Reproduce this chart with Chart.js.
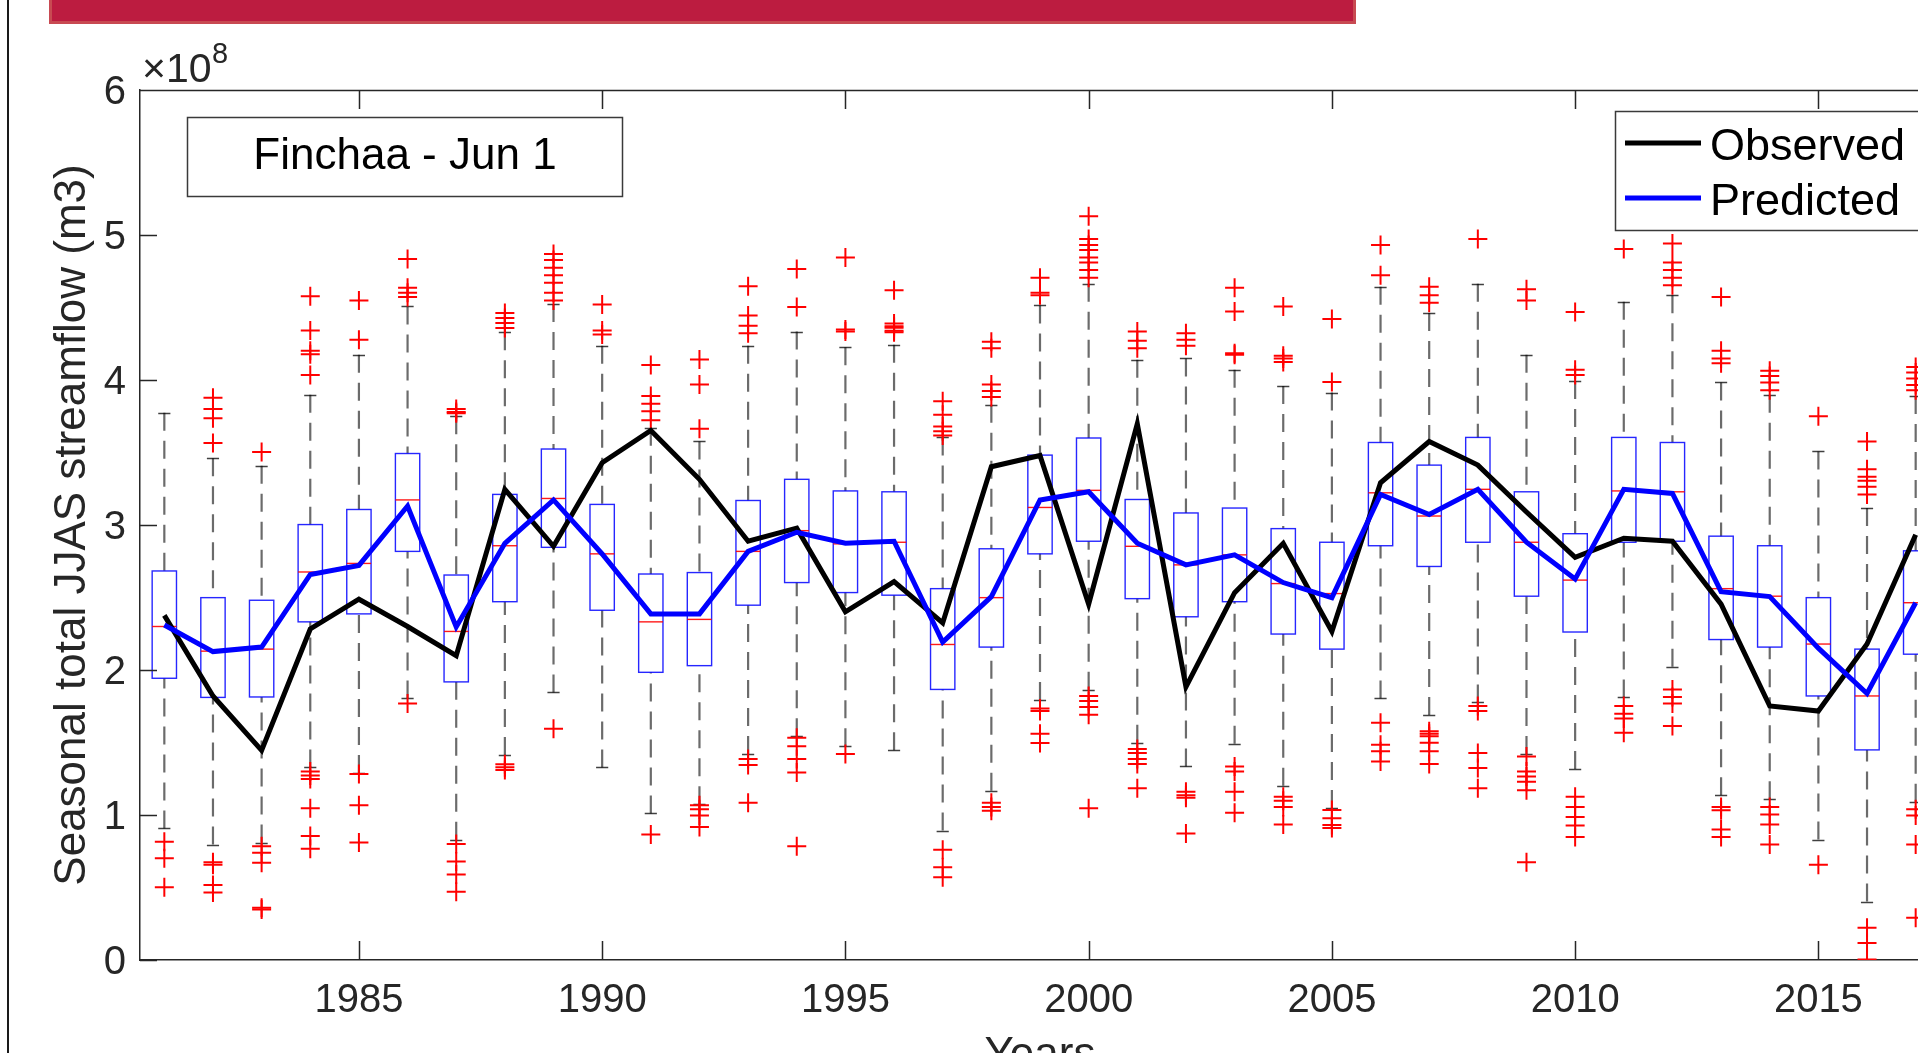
<!DOCTYPE html>
<html>
<head>
<meta charset="utf-8">
<script src="https://cdn.jsdelivr.net/npm/chart.js@4.4.0/dist/chart.umd.min.js"></script>
<style>
  html, body { margin: 0; padding: 0; background: #fff; overflow: hidden; }
  #wrap { position: relative; width: 1918px; height: 1053px; overflow: hidden; background: #fff; }
  #banner { position: absolute; left: 49px; top: -4px; width: 1301px; height: 25px; background: #bc1c40; border: 3px solid #c84a52; border-top: none; }
  #frame { position: absolute; left: 7px; top: 0; width: 2px; height: 1053px; background: #1a1a1a; }
  #chart { position: absolute; left: 0; top: 0; }
</style>
</head>
<body>
<div id="wrap">
  <canvas id="chart" width="1960" height="1100"></canvas>
  <div id="banner"></div>
  <div id="frame"></div>
</div>
<script>
// ========== Data (values in units of 1e8 m3) ==========
const years = [1981, 1982, 1983, 1984, 1985, 1986, 1987, 1988, 1989, 1990,
  1991, 1992, 1993, 1994, 1995, 1996, 1997, 1998, 1999, 2000,
  2001, 2002, 2003, 2004, 2005, 2006, 2007, 2008, 2009, 2010,
  2011, 2012, 2013, 2014, 2015, 2016, 2017];

const observed = [2.377, 1.821, 1.446, 2.283, 2.488, 2.30, 2.099, 3.246, 2.853, 3.43,
  3.652, 3.315, 2.888, 2.978, 2.401, 2.61, 2.325, 3.402, 3.479, 2.454,
  3.698, 1.884, 2.533, 2.874, 2.266, 3.291, 3.576, 3.413, 3.09, 2.777,
  2.909, 2.888, 2.454, 1.752, 1.717, 2.179, 2.933];

const predicted = [2.31, 2.127, 2.158, 2.659, 2.721, 3.131, 2.297, 2.874, 3.173, 2.80,
  2.387, 2.387, 2.818, 2.95, 2.874, 2.888, 2.193, 2.506, 3.173, 3.229,
  2.874, 2.725, 2.794, 2.603, 2.499, 3.211, 3.072, 3.246, 2.881, 2.627,
  3.246, 3.218, 2.54, 2.506, 2.151, 1.838, 2.464];

// box statistics of the forecast ensemble
const q1 = [1.943, 1.811, 1.814, 2.332, 2.387, 2.818, 1.918, 2.471, 2.846, 2.412,
  1.984, 2.03, 2.447, 2.603, 2.534, 2.516, 1.866, 2.158, 2.801, 2.888,
  2.492, 2.367, 2.471, 2.248, 2.144, 2.857, 2.714, 2.881, 2.509, 2.262,
  2.881, 2.888, 2.21, 2.158, 1.821, 1.449, 2.109];
const medians = [2.30, 2.13, 2.144, 2.676, 2.735, 3.173, 2.266, 2.857, 3.183, 2.801,
  2.332, 2.349, 2.818, 2.961, 2.87, 2.881, 2.176, 2.499, 3.121, 3.239,
  2.853, 2.725, 2.794, 2.596, 2.527, 3.222, 3.062, 3.246, 2.881, 2.62,
  3.235, 3.229, 2.561, 2.509, 2.179, 1.821, 2.464];
const q3 = [2.683, 2.499, 2.481, 3.003, 3.107, 3.493, 2.655, 3.211, 3.524, 3.142,
  2.662, 2.672, 3.169, 3.315, 3.235, 3.229, 2.561, 2.836, 3.482, 3.60,
  3.176, 3.083, 3.117, 2.975, 2.881, 3.569, 3.413, 3.604, 3.229, 2.94,
  3.604, 3.569, 2.923, 2.857, 2.499, 2.144, 2.822];
const whiskLo = [0.907, 0.796, 0.81, 1.328, 1.289, 1.804, 0.83, 1.414, 1.845, 1.328,
  1.011, 1.074, 1.421, 1.543, 1.474, 1.446, 0.893, 1.168, 1.793, 1.863,
  1.498, 1.335, 1.491, 1.202, 1.048, 1.804, 1.689, 1.776, 1.421, 1.317,
  1.811, 2.023, 1.136, 1.109, 0.831, 0.403, 1.091];
const whiskHi = [3.774, 3.461, 3.409, 3.899, 4.174, 4.507, 3.75, 4.33, 4.525, 4.236,
  3.67, 3.576, 4.236, 4.334, 4.226, 4.243, 3.604, 3.83, 4.514, 4.664,
  4.139, 4.149, 4.07, 3.958, 3.913, 4.643, 4.462, 4.664, 4.174, 3.993,
  4.539, 4.584, 3.983, 3.899, 3.507, 3.117, 3.889];

const outliers = [
  [0.816, 0.701, 0.501],
  [3.878, 3.80, 3.736, 3.566, 0.674, 0.657, 0.518, 0.466],
  [3.503, 0.785, 0.74, 0.671, 0.36, 0.348],
  [4.577, 4.341, 4.202, 4.177, 4.035, 1.30, 1.272, 1.248, 1.046, 0.855, 0.768],
  [4.549, 4.278, 1.282, 1.067, 0.81],
  [4.834, 4.636, 4.601, 4.573, 1.769],
  [3.80, 3.78, 3.77, 0.80, 0.68, 0.59, 0.47],
  [4.462, 4.428, 4.393, 4.358, 1.35, 1.33, 1.31],
  [4.869, 4.827, 4.775, 4.723, 4.671, 4.601, 4.549, 1.595],
  [4.521, 4.341, 4.313],
  [4.104, 3.889, 3.837, 3.785, 3.722, 0.865],
  [4.142, 3.969, 3.663, 1.067, 1.039, 0.997, 0.917],
  [4.646, 4.445, 4.375, 4.323, 1.387, 1.345, 1.084],
  [4.765, 4.504, 1.533, 1.474, 1.387, 1.293, 0.785],
  [4.845, 4.348, 4.334, 1.421],
  [4.619, 4.39, 4.37, 4.36, 4.34, 4.33],
  [3.854, 3.76, 3.68, 3.646, 3.618, 0.761, 0.639, 0.57],
  [4.264, 4.219, 3.969, 3.924, 3.882, 1.084, 1.056, 1.029],
  [4.706, 4.601, 4.584, 1.734, 1.717, 1.56, 1.497],
  [5.13, 4.973, 4.931, 4.897, 4.845, 4.81, 4.758, 4.706, 1.821, 1.786, 1.745, 1.692, 1.046],
  [4.334, 4.271, 4.219, 1.456, 1.428, 1.387, 1.352, 1.185],
  [4.323, 4.278, 4.236, 1.161, 1.136, 1.119, 0.872],
  [4.636, 4.473, 4.184, 4.174, 1.335, 1.30, 1.161, 1.015],
  [4.507, 4.167, 4.149, 4.125, 1.126, 1.098, 1.056, 0.935],
  [4.421, 3.986, 1.034, 0.977, 0.931, 0.91],
  [4.931, 4.723, 1.637, 1.484, 1.439, 1.369],
  [4.643, 4.584, 4.532, 1.578, 1.56, 1.543, 1.498, 1.439, 1.352],
  [4.973, 1.752, 1.717, 1.428, 1.324, 1.185],
  [4.626, 4.549, 1.404, 1.30, 1.265, 1.23, 1.171, 0.674],
  [4.469, 4.07, 4.035, 1.126, 1.056, 0.987, 0.928, 0.848],
  [4.904, 1.752, 1.699, 1.665, 1.567],
  [4.942, 4.81, 4.758, 4.706, 4.653, 1.866, 1.814, 1.769, 1.613],
  [4.573, 4.202, 4.149, 4.115, 1.056, 1.032, 0.90, 0.848],
  [4.063, 4.028, 3.983, 3.93, 1.056, 1.004, 0.935, 0.796],
  [3.75, 0.657],
  [3.576, 3.385, 3.333, 3.305, 3.263, 3.211, 0.222, 0.118, 0.003],
  [4.09, 4.052, 4.01, 3.965, 3.93, 1.039, 0.997, 0.796, 0.292]
];

const xTicks = [1985, 1990, 1995, 2000, 2005, 2010, 2015];
const yTicks = [0, 1, 2, 3, 4, 5, 6];
const seriesNames = ['Observed', 'Predicted'];
const seriesColors = ['#000000', '#0000ff'];
const panelTitle = 'Finchaa - Jun 1';

// ========== Plugins ==========
const FONT = '"Liberation Sans", Arial, Helvetica, sans-serif';
const AXIS_COLOR = '#262626';

// whiskers, boxes and medians, drawn under the datasets
const boxPlugin = {
  id: 'boxplot',
  beforeDatasetsDraw(chart) {
    const { ctx, chartArea: a, scales: { x, y } } = chart;
    ctx.save();
    ctx.beginPath();
    ctx.rect(a.left, a.top, a.right - a.left, a.bottom - a.top);
    ctx.clip();
    years.forEach((yr, i) => {
      const cx = x.getPixelForValue(yr);
      const half = x.getPixelForValue(yr + 0.25) - cx;
      const capHalf = half / 2;

      // dashed whiskers
      ctx.setLineDash([18, 10]);
      ctx.strokeStyle = 'rgba(0,0,0,0.58)';
      ctx.lineWidth = 2.2;
      ctx.beginPath();
      ctx.moveTo(cx, y.getPixelForValue(whiskHi[i]));
      ctx.lineTo(cx, y.getPixelForValue(q3[i]));
      ctx.moveTo(cx, y.getPixelForValue(whiskLo[i]));
      ctx.lineTo(cx, y.getPixelForValue(q1[i]));
      ctx.stroke();

      // whisker caps
      ctx.setLineDash([]);
      ctx.strokeStyle = 'rgba(0,0,0,0.75)';
      ctx.lineWidth = 1.5;
      ctx.beginPath();
      [whiskHi[i], whiskLo[i]].forEach(v => {
        const py = Math.round(y.getPixelForValue(v)) + 0.5;
        ctx.moveTo(cx - capHalf, py);
        ctx.lineTo(cx + capHalf, py);
      });
      ctx.stroke();

      // box
      const top = y.getPixelForValue(q3[i]);
      const bot = y.getPixelForValue(q1[i]);
      ctx.strokeStyle = 'rgba(0,0,255,0.85)';
      ctx.lineWidth = 1.4;
      ctx.strokeRect(cx - half, top, half * 2, bot - top);

      // median
      const my = y.getPixelForValue(medians[i]);
      ctx.strokeStyle = 'rgba(255,0,0,0.9)';
      ctx.lineWidth = 1.4;
      ctx.beginPath();
      ctx.moveTo(cx - half, my);
      ctx.lineTo(cx + half, my);
      ctx.stroke();
    });
    ctx.restore();
  }
};

// MATLAB style axes: top border, inward ticks, exponent, panel title and legend
const decorPlugin = {
  id: 'decor',
  afterDraw(chart) {
    const { ctx, chartArea: a, scales: { x, y } } = chart;
    ctx.save();
    ctx.strokeStyle = AXIS_COLOR;
    ctx.lineWidth = 1.5;
    ctx.beginPath();
    ctx.moveTo(a.left, a.top + 0.5);
    ctx.lineTo(a.right, a.top + 0.5);
    xTicks.forEach(v => {
      const px = Math.round(x.getPixelForValue(v)) + 0.5;
      ctx.moveTo(px, a.bottom);
      ctx.lineTo(px, a.bottom - 19);
      ctx.moveTo(px, a.top);
      ctx.lineTo(px, a.top + 19);
    });
    yTicks.forEach(v => {
      const py = Math.round(y.getPixelForValue(v)) + 0.5;
      ctx.moveTo(a.left, py);
      ctx.lineTo(a.left + 17, py);
    });
    ctx.stroke();

    // exponent label
    ctx.fillStyle = AXIS_COLOR;
    ctx.textBaseline = 'alphabetic';
    ctx.textAlign = 'left';
    ctx.font = `41px ${FONT}`;
    ctx.fillText('\u00d710', 142, 82);
    ctx.font = `29px ${FONT}`;
    ctx.fillText('8', 212, 63);

    // panel title box
    ctx.fillStyle = '#fff';
    ctx.fillRect(187, 117, 436, 80);
    ctx.strokeStyle = '#3a3a3a';
    ctx.lineWidth = 1.5;
    ctx.strokeRect(187.5, 117.5, 435, 79);
    ctx.fillStyle = '#000';
    ctx.textAlign = 'center';
    ctx.font = `44px ${FONT}`;
    ctx.fillText(panelTitle, 405, 169);

    // legend
    ctx.fillStyle = '#fff';
    ctx.fillRect(1615, 111, 330, 120);
    ctx.strokeStyle = '#3a3a3a';
    ctx.strokeRect(1615.5, 111.5, 330, 119);
    ctx.textAlign = 'left';
    ctx.font = `45px ${FONT}`;
    seriesNames.forEach((name, i) => {
      const ly = 143 + i * 55;
      ctx.strokeStyle = seriesColors[i];
      ctx.lineWidth = 5;
      ctx.beginPath();
      ctx.moveTo(1625, ly);
      ctx.lineTo(1701, ly);
      ctx.stroke();
      ctx.fillStyle = '#000';
      ctx.fillText(name, 1710, ly + 17);
    });
    ctx.restore();
  }
};

// ========== Chart ==========
const outlierPoints = [];
outliers.forEach((list, i) => list.forEach(v => outlierPoints.push({ x: years[i], y: v })));

new Chart(document.getElementById('chart'), {
  type: 'scatter',
  data: {
    datasets: [
      {
        label: 'Outliers',
        data: outlierPoints,
        pointStyle: 'cross',
        pointRadius: 9.5,
        pointHoverRadius: 9.5,
        borderColor: '#ff0000',
        backgroundColor: '#ff0000',
        pointBorderWidth: 2,
        order: 3
      },
      {
        type: 'line',
        label: seriesNames[0],
        data: years.map((yr, i) => ({ x: yr, y: observed[i] })),
        borderColor: seriesColors[0],
        borderWidth: 5,
        pointRadius: 0,
        tension: 0,
        fill: false,
        order: 2
      },
      {
        type: 'line',
        label: seriesNames[1],
        data: years.map((yr, i) => ({ x: yr, y: predicted[i] })),
        borderColor: seriesColors[1],
        borderWidth: 5,
        pointRadius: 0,
        tension: 0,
        fill: false,
        order: 1
      }
    ]
  },
  options: {
    responsive: false,
    animation: false,
    devicePixelRatio: 1,
    layout: { padding: { top: 90, right: 20, left: 0, bottom: 0 } },
    plugins: {
      legend: { display: false },
      tooltip: { enabled: false }
    },
    scales: {
      x: {
        type: 'linear',
        min: 1980.5,
        max: 2017.5,
        afterBuildTicks: s => { s.ticks = xTicks.map(v => ({ value: v })); },
        afterFit: s => { s.height = 140; },
        grid: { display: false, drawTicks: false },
        border: { display: true, color: AXIS_COLOR, width: 1.5 },
        ticks: {
          font: { family: FONT, size: 40 },
          color: AXIS_COLOR,
          padding: 17,
          maxRotation: 0,
          autoSkip: false,
          callback: v => String(v)
        },
        title: {
          display: true,
          text: 'Years',
          font: { family: FONT, size: 44 },
          color: AXIS_COLOR,
          padding: { top: 0, bottom: 18 }
        }
      },
      y: {
        type: 'linear',
        min: 0,
        max: 6,
        afterBuildTicks: s => { s.ticks = yTicks.map(v => ({ value: v })); },
        afterFit: s => { s.width = 140; },
        grid: { display: false, drawTicks: false },
        border: { display: true, color: AXIS_COLOR, width: 1.5 },
        ticks: {
          font: { family: FONT, size: 40 },
          color: AXIS_COLOR,
          padding: 14,
          labelOffset: 3,
          callback: v => String(v)
        },
        title: {
          display: true,
          text: 'Seasonal total JJAS streamflow (m3)',
          font: { family: FONT, size: 44 },
          color: AXIS_COLOR,
          padding: { top: 46, bottom: 0 }
        }
      }
    }
  },
  plugins: [boxPlugin, decorPlugin]
});
</script>
</body>
</html>
